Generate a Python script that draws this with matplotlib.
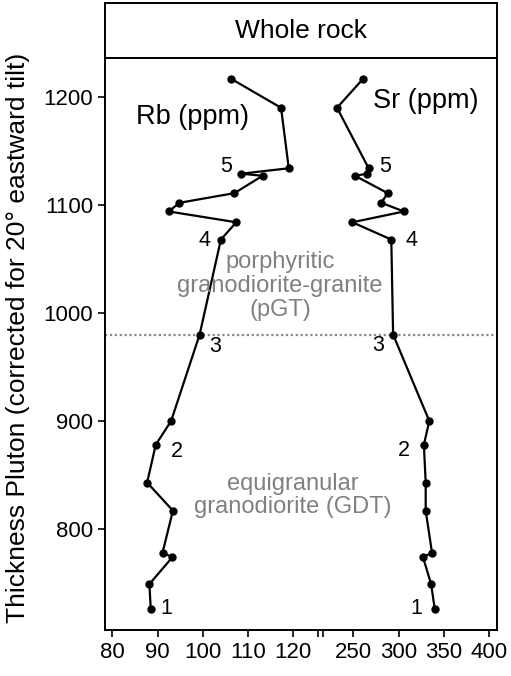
import numpy as np
import matplotlib
matplotlib.use("Agg")
import matplotlib.pyplot as plt

plt.rcParams['font.family'] = ['Liberation Sans', 'DejaVu Sans']

# sample thickness (m) and whole rock concentrations
thickness = [1217, 1190, 1134, 1129, 1127, 1111, 1102, 1094, 1084, 1068,
             980, 900, 878, 843, 817, 778, 774, 749, 726]
rb = [106.2, 117.3, 119.0, 108.5, 113.2, 107.0, 94.8, 92.5, 107.4, 104.0,
      99.3, 93.0, 89.6, 87.7, 93.4, 91.1, 93.3, 88.2, 88.5]
sr = [261, 232, 267, 265, 252, 288, 281, 306, 249, 292,
      294, 334, 328, 330, 330, 337, 327, 336, 340]

# numbered samples: label -> index in the arrays
sample_labels = {'1': 18, '2': 12, '3': 10, '4': 9, '5': 3}
contact = 980

rb_ticks = [80, 90, 100, 110, 120]
sr_ticks = [250, 300, 350, 400]
y_ticks = [800, 900, 1000, 1100, 1200]

# Sr is drawn on the same axis, compressed 5x and shifted right of Rb
SR_SHIFT = 83.26
SR_SCALE = 5.0


def sr_to_x(v):
    return SR_SHIFT + np.asarray(v, dtype=float) / SR_SCALE


fig = plt.figure(figsize=(5.11, 6.76), dpi=100)
ax = fig.add_axes([105 / 511, 1 - 630 / 676, 392 / 511, 572 / 676])

ax.axhline(contact, color='#888888', lw=1.6, ls=(0, (1, 1.2)), zorder=1)

ax.plot(rb, thickness, color='black', lw=1.6, marker='o', ms=5, zorder=3)
ax.plot(sr_to_x(sr), thickness, color='black', lw=1.6, marker='o', ms=5, zorder=3)

rb_offsets = {'1': (16, 0), '2': (21, -7), '3': (16, -12), '4': (-16, -1), '5': (-15, 7)}
sr_offsets = {'1': (-18, 0), '2': (-20, -6), '3': (-15, -11), '4': (20, -1), '5': (18, 7)}
for lab, i in sample_labels.items():
    ax.annotate(lab, (rb[i], thickness[i]), xytext=rb_offsets[lab],
                textcoords='offset pixels', ha='center', va='center', fontsize=15.5)
    ax.annotate(lab, (sr_to_x(sr[i]), thickness[i]), xytext=sr_offsets[lab],
                textcoords='offset pixels', ha='center', va='center', fontsize=15.5)

ax.text(97.8, 1181.5, 'Rb (ppm)', ha='center', va='center', fontsize=19.5)
ax.text(149.3, 1196.6, 'Sr (ppm)', ha='center', va='center', fontsize=19.5)

ax.text(117.1, 1025, 'porphyritic\ngranodiorite-granite\n(pGT)', ha='center',
        va='center', fontsize=17, color='#808080', linespacing=1.1)
ax.text(119.8, 831, 'equigranular\ngranodiorite (GDT)', ha='center',
        va='center', fontsize=17, color='#808080', linespacing=1.1)

ax.set_xlim(78.39, 165.02)
ax.set_ylim(706.5, 1236.1)

# break marks between the two scales
brk = [125.52, 126.5]
ax.set_xticks(rb_ticks + list(sr_to_x(sr_ticks)) + brk)
ax.set_xticklabels([str(t) for t in rb_ticks] + [str(t) for t in sr_ticks] + ['', ''])
ax.set_yticks(y_ticks)
ax.tick_params(direction='out', length=5, width=1.2, labelsize=16, pad=3.5)
ax.set_ylabel('Thickness Pluton (corrected for 20° eastward tilt)', fontsize=19)
ax.yaxis.set_label_coords(-0.191, 0.51)
for s in ax.spines.values():
    s.set_linewidth(1.4)

# facet strip
strip = fig.add_axes([105 / 511, 1 - 58 / 676, 392 / 511, 55 / 676])
strip.set_xticks([])
strip.set_yticks([])
for s in strip.spines.values():
    s.set_linewidth(1.4)
strip.text(0.5, 0.5, 'Whole rock', ha='center', va='center', fontsize=19,
           transform=strip.transAxes)

fig.savefig('out.png', dpi=100)
